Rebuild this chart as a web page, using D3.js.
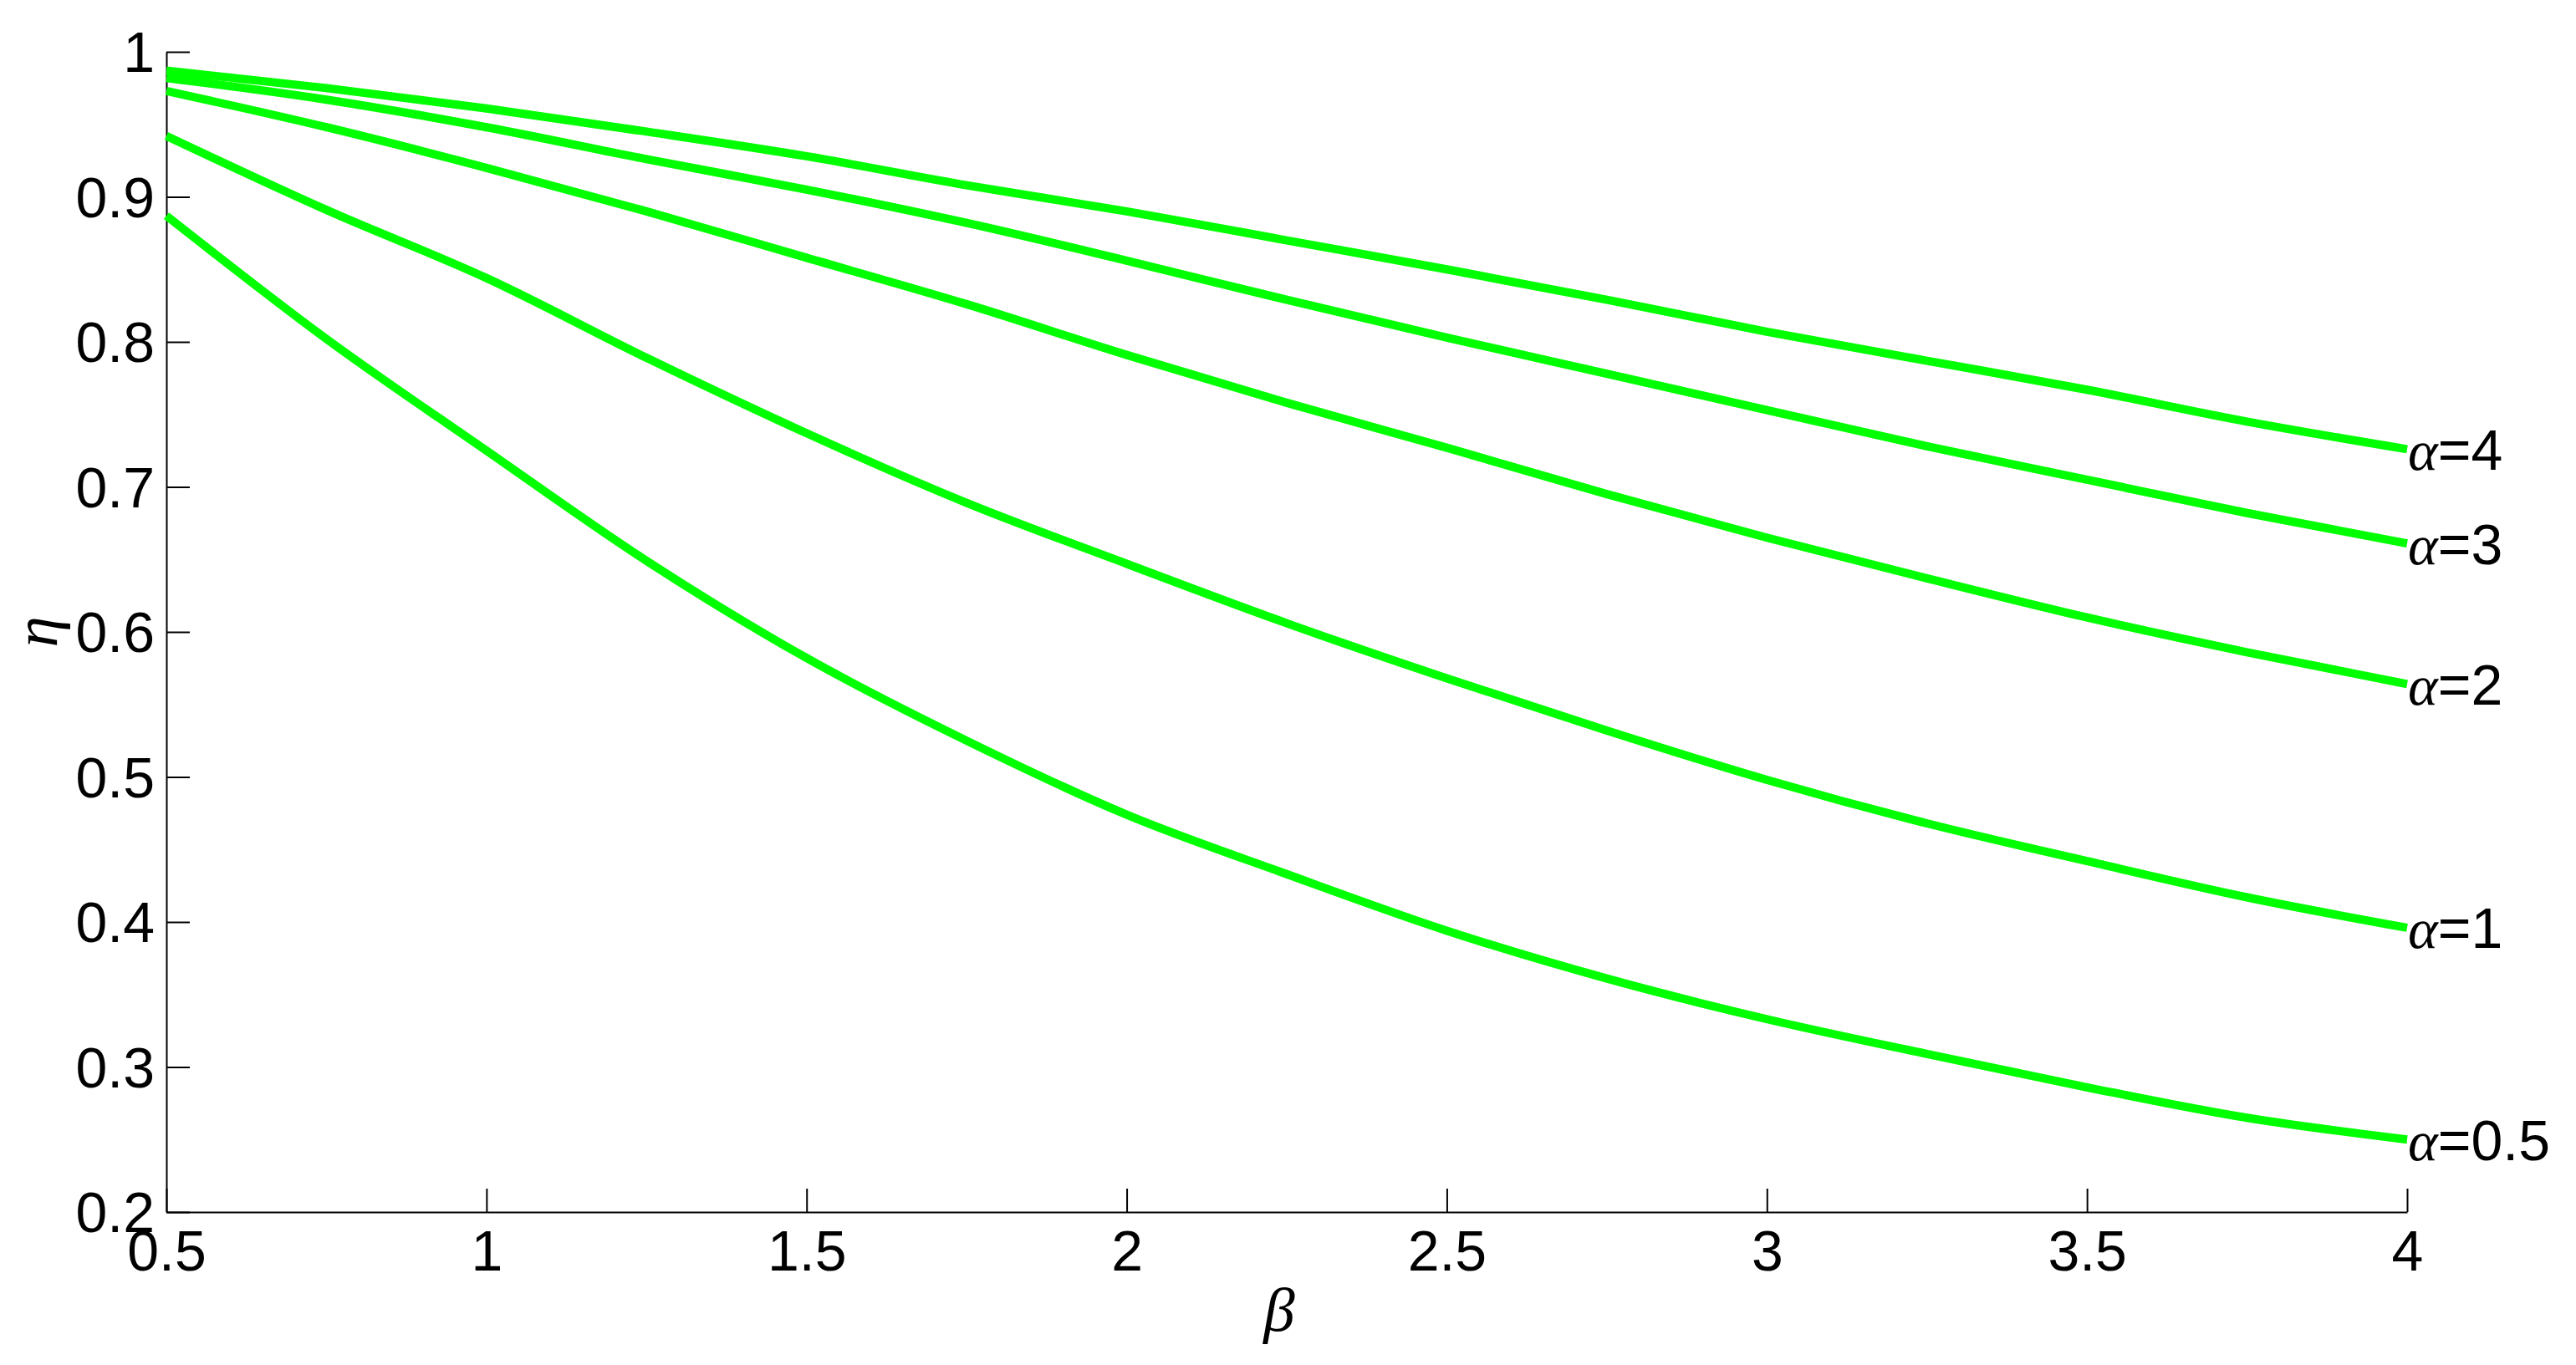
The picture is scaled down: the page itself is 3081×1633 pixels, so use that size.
<!DOCTYPE html>
<html>
<head>
<meta charset="utf-8">
<script src="https://cdn.jsdelivr.net/npm/d3@7"></script>
<style>
  body { margin: 0; background: #fff; }
  svg { display: block; }
</style>
</head>
<body>
<div id="wrapper"></div>
<script>
// beta samples along the x axis
const betaValues = [0.5, 0.75, 1.0, 1.25, 1.5, 1.75, 2.0, 2.25, 2.5, 2.75, 3.0, 3.25, 3.5, 3.75, 4.0];

// eta, one array per alpha
const etaAlpha4   = [0.987, 0.975, 0.961, 0.945, 0.928, 0.908, 0.890, 0.870, 0.850, 0.829, 0.807, 0.787, 0.767, 0.745, 0.726];
const etaAlpha3   = [0.982, 0.967, 0.948, 0.926, 0.905, 0.882, 0.856, 0.829, 0.803, 0.778, 0.753, 0.728, 0.705, 0.682, 0.661];
const etaAlpha2   = [0.973, 0.948, 0.920, 0.890, 0.858, 0.826, 0.791, 0.758, 0.727, 0.695, 0.665, 0.637, 0.610, 0.586, 0.564];
const etaAlpha1   = [0.942, 0.891, 0.844, 0.789, 0.737, 0.689, 0.647, 0.606, 0.568, 0.532, 0.498, 0.468, 0.442, 0.417, 0.396];
const etaAlpha0_5 = [0.887, 0.802, 0.725, 0.649, 0.582, 0.525, 0.474, 0.433, 0.394, 0.361, 0.333, 0.309, 0.286, 0.265, 0.250];

const alphaLabels = ["4", "3", "2", "1", "0.5"];
const seriesList = [etaAlpha4, etaAlpha3, etaAlpha2, etaAlpha1, etaAlpha0_5];

const xTicks = [0.5, 1, 1.5, 2, 2.5, 3, 3.5, 4];
const yTicks = [0.2, 0.3, 0.4, 0.5, 0.6, 0.7, 0.8, 0.9, 1];

const dimension = {
    width: 3081,
    height: 1633,
    margin: { top: 62, left: 199, bottom: 183, right: 202 }
};
dimension.boundedWidth = dimension.width - dimension.margin.left - dimension.margin.right;
dimension.boundedHeight = dimension.height - dimension.margin.top - dimension.margin.bottom;

const svg = d3.select("#wrapper").append("svg")
    .attr("width", dimension.width)
    .attr("height", dimension.height);

const bounded = svg.append("g")
    .attr("transform", `translate(${dimension.margin.left},${dimension.margin.top})`);

const xScaler = d3.scaleLinear().domain([0.5, 4]).range([0, dimension.boundedWidth]);
const yScaler = d3.scaleLinear().domain([0.2, 1]).range([dimension.boundedHeight, 0]);

const sansFont = "'Liberation Sans', Arial, sans-serif";
const serifFont = "'Liberation Serif', 'Times New Roman', serif";
const tickFontSize = 68;

// axes, ticks pointing inward like matlab
const xAxis = d3.axisBottom(xScaler)
    .tickValues(xTicks)
    .tickFormat(d3.format("~g"))
    .tickSizeInner(-28)
    .tickSizeOuter(0)
    .tickPadding(22);

const yAxis = d3.axisLeft(yScaler)
    .tickValues(yTicks)
    .tickFormat(d3.format("~g"))
    .tickSizeInner(-28)
    .tickSizeOuter(0)
    .tickPadding(14);

const xAxisGroup = bounded.append("g")
    .attr("transform", `translate(0,${dimension.boundedHeight})`)
    .call(xAxis);

const yAxisGroup = bounded.append("g")
    .call(yAxis);

[xAxisGroup, yAxisGroup].forEach(g => {
    g.select(".domain").attr("stroke", "#000").attr("stroke-width", 2);
    g.selectAll(".tick line").attr("stroke", "#000").attr("stroke-width", 2);
    g.selectAll(".tick text")
        .attr("fill", "#000")
        .style("font-family", sansFont)
        .style("font-size", tickFontSize + "px");
});
yAxisGroup.selectAll(".tick text").attr("dy", "0.35em");

// curves
const lineGenerator = d3.line()
    .x((d, i) => xScaler(betaValues[i]))
    .y(d => yScaler(d))
    .curve(d3.curveMonotoneX);

bounded.selectAll(".curve")
    .data(seriesList)
    .join("path")
    .attr("class", "curve")
    .attr("d", d => lineGenerator(d))
    .attr("fill", "none")
    .attr("stroke", "#00ff00")
    .attr("stroke-width", 10)
    .attr("stroke-linejoin", "round");

// alpha labels at the end of each curve
const lastBeta = betaValues[betaValues.length - 1];
const labels = bounded.selectAll(".alpha-label")
    .data(seriesList)
    .join("text")
    .attr("class", "alpha-label")
    .attr("x", xScaler(lastBeta) + 1)
    .attr("y", d => yScaler(d[d.length - 1]))
    .attr("dy", "0.36em")
    .style("font-size", tickFontSize + "px")
    .attr("fill", "#000");

labels.append("tspan")
    .style("font-family", serifFont)
    .style("font-style", "italic")
    .text("α");
labels.append("tspan")
    .style("font-family", sansFont)
    .text((d, i) => "=" + alphaLabels[i]);

// axis titles
bounded.append("text")
    .attr("x", dimension.boundedWidth / 2 - 9)
    .attr("y", dimension.boundedHeight + 142)
    .attr("text-anchor", "middle")
    .style("font-family", serifFont)
    .style("font-style", "italic")
    .style("font-size", "75px")
    .text("β");

svg.append("text")
    .attr("transform", `translate(68,${dimension.margin.top + dimension.boundedHeight / 2}) rotate(-90)`)
    .attr("text-anchor", "middle")
    .style("font-family", serifFont)
    .style("font-style", "italic")
    .style("font-size", "75px")
    .text("η");
</script>
</body>
</html>
